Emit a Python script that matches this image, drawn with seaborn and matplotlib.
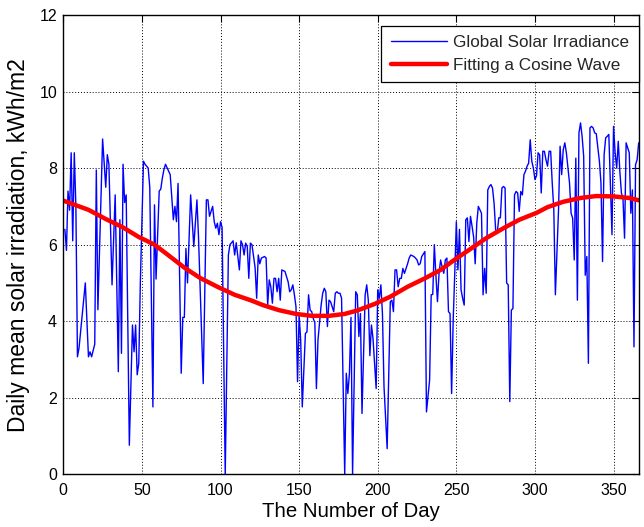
import numpy as np
import pandas as pd
import matplotlib
matplotlib.use("Agg")
import matplotlib.pyplot as plt
import seaborn as sns

# ---------------- data ----------------
day = [1, 2, 3, 4, 5, 6, 7, 8, 9, 10, 14, 16, 17, 18, 20, 21, 22, 25, 27, 28,
       29, 31, 33, 35, 36, 37, 38, 39, 40, 42, 44, 45, 46, 47, 48, 49, 51, 52, 53, 54,
       55, 57, 58, 59, 61, 62, 63, 64, 65, 67, 68, 70, 71, 72, 73, 75, 76, 77, 78, 79,
       81, 83, 85, 86, 89, 91, 92, 93, 95, 96, 97, 98, 99, 100, 101, 103, 105, 106, 108, 109,
       110, 112, 113, 114, 115, 116, 117, 118, 119, 120, 121, 122, 123, 124, 125, 126, 128, 129, 130, 131,
       132, 133, 134, 135, 136, 137, 138, 139, 141, 143, 144, 145, 146, 147, 148, 149, 150, 151, 152, 154,
       155, 156, 157, 158, 159, 160, 161, 162, 164, 165, 166, 167, 168, 169, 170, 172, 173, 174, 175, 176,
       177, 179, 180, 181, 182, 183, 184, 185, 186, 187, 188, 189, 190, 192, 193, 194, 195, 196, 197, 199,
       200, 201, 202, 203, 204, 206, 208, 209, 210, 211, 212, 213, 214, 215, 216, 217, 219, 220, 221, 223,
       224, 225, 226, 227, 228, 230, 231, 233, 234, 235, 236, 237, 238, 239, 240, 241, 242, 243, 244, 245,
       246, 247, 248, 249, 250, 251, 252, 253, 254, 255, 256, 257, 258, 259, 260, 261, 262, 263, 264, 265,
       266, 267, 268, 269, 270, 271, 272, 273, 274, 275, 276, 277, 278, 279, 280, 281, 282, 283, 284, 285,
       286, 287, 288, 289, 290, 291, 292, 293, 294, 295, 296, 297, 298, 299, 300, 301, 302, 303, 304, 305,
       306, 307, 308, 309, 310, 311, 312, 313, 315, 316, 317, 318, 319, 320, 322, 323, 324, 325, 326, 327,
       328, 329, 330, 331, 332, 333, 334, 335, 336, 337, 338, 339, 340, 341, 342, 343, 344, 345, 346, 347,
       348, 349, 350, 351, 352, 353, 354, 355, 356, 357, 358, 359, 360, 361, 362, 363, 364, 365, 366]

irradiance = [6.40, 5.85, 7.40, 6.90, 8.40, 6.10, 8.40, 7.00, 3.07, 3.30, 5.00, 3.07, 3.20, 3.07, 3.40, 7.95, 4.30, 8.76, 7.50, 8.35,
              8.10, 4.95, 7.30, 2.68, 6.65, 3.16, 8.10, 7.10, 7.30, 0.76, 3.90, 3.20, 3.90, 2.60, 2.90, 5.00, 8.18, 8.10, 8.05, 8.00,
              7.50, 1.76, 7.04, 5.10, 7.40, 7.45, 7.74, 7.96, 8.10, 7.92, 7.83, 6.65, 7.00, 6.60, 7.60, 2.64, 4.10, 4.10, 5.90, 5.00,
              7.30, 5.95, 7.17, 6.20, 2.37, 7.17, 7.17, 6.74, 7.00, 6.60, 6.43, 6.56, 6.26, 6.60, 6.45, 0.00, 5.73, 6.00, 6.10, 5.73,
              6.05, 5.34, 6.10, 6.00, 5.73, 6.04, 5.95, 5.12, 6.04, 6.00, 5.70, 5.40, 4.60, 5.73, 5.50, 5.65, 5.69, 5.65, 4.42, 5.08,
              4.90, 4.47, 5.12, 5.12, 4.77, 5.12, 4.55, 5.34, 5.30, 5.03, 4.77, 4.82, 4.95, 4.69, 4.38, 2.42, 4.16, 3.50, 1.76, 3.68,
              3.72, 4.69, 4.29, 4.25, 4.07, 3.96, 2.24, 3.51, 4.42, 4.73, 4.86, 4.77, 3.86, 4.55, 4.51, 4.25, 4.73, 4.77, 4.73, 4.73,
              4.60, 0.00, 2.64, 2.11, 2.64, 4.10, 0.00, 2.37, 4.77, 4.69, 3.60, 4.20, 1.59, 4.69, 4.95, 4.55, 3.10, 3.90, 3.55, 2.24,
              4.82, 4.60, 4.95, 4.20, 2.29, 0.67, 4.51, 4.55, 4.25, 5.34, 5.34, 4.90, 5.12, 5.12, 5.38, 5.25, 5.50, 5.65, 5.73, 5.69,
              5.65, 5.60, 5.47, 5.50, 5.69, 5.82, 1.63, 2.46, 4.69, 4.70, 6.00, 5.20, 4.51, 5.25, 5.60, 5.41, 5.25, 5.60, 5.65, 4.25,
              4.20, 2.11, 4.03, 5.25, 6.60, 5.34, 6.40, 4.82, 4.60, 4.42, 6.65, 6.70, 6.08, 6.74, 6.48, 6.20, 5.50, 6.56, 7.00, 6.91,
              6.82, 4.69, 5.38, 4.73, 7.43, 7.52, 7.57, 7.48, 7.09, 6.39, 6.30, 6.70, 6.70, 7.48, 7.52, 7.48, 5.00, 4.95, 1.90, 4.29,
              4.33, 7.30, 7.39, 7.35, 6.87, 7.39, 7.30, 7.83, 7.92, 8.05, 8.13, 8.74, 8.18, 8.00, 7.70, 7.80, 8.40, 8.35, 7.35, 8.44,
              8.44, 8.22, 8.05, 8.44, 8.44, 7.61, 6.91, 4.69, 6.91, 8.57, 7.83, 8.48, 8.66, 8.40, 7.61, 6.82, 6.69, 5.60, 8.26, 4.55,
              8.92, 9.18, 8.83, 8.31, 5.20, 5.69, 2.90, 9.05, 9.09, 9.05, 8.92, 8.90, 8.53, 8.18, 7.61, 5.56, 8.35, 8.79, 8.83, 8.88,
              7.61, 6.26, 9.09, 8.40, 8.00, 8.70, 7.92, 7.35, 7.20, 6.17, 8.66, 8.53, 8.40, 6.82, 7.43, 3.33, 8.09, 8.22, 8.66]

fit_day = [0, 16, 27, 38, 48, 58, 66, 77, 87, 98, 109, 119, 127, 137, 148, 158, 169, 179, 187,
           198, 208, 219, 230, 240, 248, 258, 269, 280, 290, 301, 308, 318, 329, 339, 350, 360, 366]
fit_value = [7.15, 6.91, 6.67, 6.45, 6.20, 6.00, 5.75, 5.40, 5.13, 4.90, 4.69, 4.55, 4.42, 4.29, 4.19, 4.14, 4.14, 4.19, 4.28,
             4.45, 4.64, 4.90, 5.12, 5.34, 5.58, 5.86, 6.17, 6.43, 6.65, 6.83, 6.98, 7.12, 7.22, 7.27, 7.26, 7.22, 7.16]

x_ticks = [0, 50, 100, 150, 200, 250, 300, 350]
y_ticks = [0, 2, 4, 6, 8, 10, 12]

series_names = ["Global Solar Irradiance", "Fitting a Cosine Wave"]
x_label = "The Number of Day"
y_label = "Daily mean solar irradiation, kWh/m2"

# ---------------- plotting ----------------
sns.set_style("white")
plt.rcParams["font.family"] = ["Liberation Sans", "DejaVu Sans"]

W, H = 644, 527
fig = plt.figure(figsize=(W / 100, H / 100), dpi=100)
left, right, top, bottom = 63.3, 638.7, 15.0, 474.3
ax = fig.add_axes([left / W, 1 - bottom / H, (right - left) / W, (bottom - top) / H])

df_obs = pd.DataFrame({"day": day, "value": irradiance})
df_fit = pd.DataFrame({"day": fit_day, "value": fit_value})

sns.lineplot(data=df_obs, x="day", y="value", color=(0, 0, 1), linewidth=1.0,
             ax=ax, label=series_names[0])
sns.lineplot(data=df_fit, x="day", y="value", color=(1, 0, 0), linewidth=3.2,
             ax=ax, label=series_names[1])

ax.set_xlim(0, 366)
ax.set_ylim(0, 12)
ax.set_xticks(x_ticks)
ax.set_yticks(y_ticks)
ax.set_axisbelow(True)
ax.grid(True, color="black", linestyle=(0, (1, 2)), linewidth=0.7)

ax.tick_params(axis="both", direction="in", length=5, width=0.8, top=True, right=True,
               labelsize=11.5, colors="black")
ax.tick_params(axis="x", pad=6)
ax.tick_params(axis="y", pad=4.5)
for s in ax.spines.values():
    s.set_color("black")
    s.set_linewidth(1.0)

ax.set_xlabel(x_label, fontsize=14.7, labelpad=3, color="black")
ax.set_ylabel(y_label, fontsize=16.5, labelpad=7, color="black")

leg = ax.legend(loc="upper right", bbox_to_anchor=(1.0, 1 - 10.7 / (bottom - top)),
                borderaxespad=0, fontsize=12.3, frameon=True, fancybox=False,
                edgecolor="black", framealpha=1, handlelength=3.3, handletextpad=0.35,
                borderpad=0.55, labelspacing=0.45)
leg.get_frame().set_linewidth(0.9)

fig.savefig("out.png", dpi=100)
